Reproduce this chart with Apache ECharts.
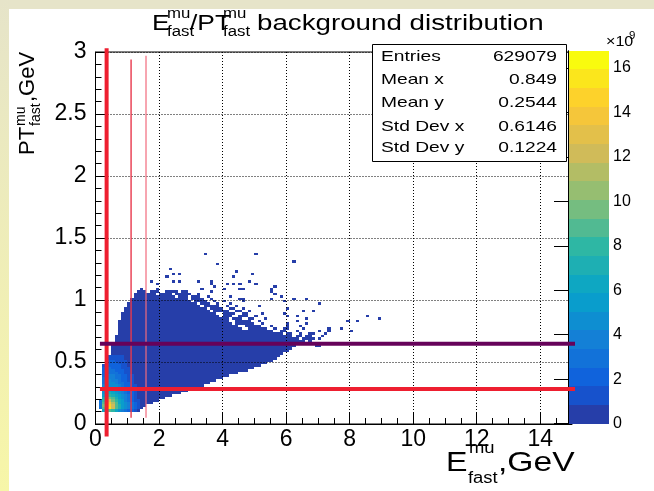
<!DOCTYPE html>
<html><head><meta charset="utf-8">
<script src="https://cdn.jsdelivr.net/npm/echarts@6/dist/echarts.min.js"></script>
<style>html,body{margin:0;padding:0;background:#fff}#c{width:654px;height:491px}</style>
</head><body><div id="c"></div><script>
// ---------------- data ----------------
const BIN_X = 0.1, BIN_Y = 0.02;          // histogram bin sizes (GeV)
const Z_MAX = 16.77;                       // palette maximum, x10^9
const LOW = 0.3;                           // content of the sparse (lowest colour) bins, x10^9
const xTicks = [0, 2, 4, 6, 8, 10, 12, 14];
const yTicks = [0, 0.5, 1, 1.5, 2, 2.5, 3];
const zTicks = [0, 2, 4, 6, 8, 10, 12, 14, 16];

// occupied bins, row by row (row = lower y edge), as [xFrom, xTo] runs
const rowY = [0.10,0.12,0.14,0.16,0.18,0.20,0.22,0.24,0.26,0.28,0.30,0.32,0.34,0.36,0.38,0.40,0.42,0.44,0.46,0.48,
              0.50,0.52,0.54,0.56,0.58,0.60,0.62,0.64,0.66,0.68,0.70,0.72,0.74,0.76,0.78,0.80,0.82,0.84,0.86,0.88,
              0.90,0.92,0.94,0.96,0.98,1.00,1.02,1.04,1.06];
const rowSegments = [
  [[0.2,1.4]], [[0.1,1.5]], [[0.1,1.6]], [[0.1,1.8]], [[0.1,2.0]], [[0.2,2.2]], [[0.2,2.4]], [[0.2,2.7]],
  [[0.2,2.9]], [[0.2,3.2]], [[0.2,3.4]], [[0.2,3.6]], [[0.2,3.8]], [[0.2,4.0]], [[0.2,4.2]], [[0.2,4.5]],
  [[0.2,4.8]], [[0.2,5.0]], [[0.2,5.2]], [[0.3,5.4]],
  [[0.4,5.6]], [[0.4,5.7]], [[0.4,5.8]], [[0.5,5.9]], [[0.5,6.1]], [[0.5,6.2]], [[0.5,6.3],[6.9,7.0]],
  [[0.6,6.5]], [[0.6,6.6],[6.7,6.8]], [[0.6,6.4],[6.5,6.9],[7.0,7.1]],
  [[0.6,6.2],[6.3,6.5],[6.6,6.8],[7.1,7.2]],
  [[0.7,5.9],[6.0,6.2],[6.4,6.5],[6.7,6.9],[7.2,7.3]],
  [[0.7,5.6],[5.8,6.0],[6.3,6.4],[7.0,7.1],[7.3,7.4],[8.0,8.1]],
  [[0.7,4.6],[4.8,5.4],[5.6,5.7],[5.9,6.1],[6.5,6.6],[7.3,7.4],[7.7,7.8]],
  [[0.7,4.5],[4.7,5.2],[5.5,5.6],[6.0,6.1],[6.4,6.5]],
  [[0.7,4.3],[4.4,5.0],[5.2,5.3],[6.0,6.1],[6.6,6.7]],
  [[0.7,4.2],[4.4,4.9],[5.1,5.2],[6.3,6.4],[7.9,8.0],[8.2,8.3]],
  [[0.8,4.2],[4.3,4.6],[4.8,5.0],[5.3,5.4],[6.6,6.7],[8.9,9.0]],
  [[0.8,3.9],[4.0,4.3],[4.5,4.8],[5.0,5.1],[6.0,6.1],[6.3,6.4],[8.5,8.6]],
  [[0.8,3.8],[4.0,4.4],[4.6,4.8],[5.2,5.3],[5.9,6.0]],
  [[0.9,3.6],[3.7,4.2],[4.4,4.6],[4.8,4.9],[6.5,6.6],[6.8,6.9]],
  [[0.9,3.5],[3.6,4.0],[4.2,4.4],[4.6,4.7],[6.0,6.1]],
  [[1.0,3.3],[3.4,3.9],[4.1,4.2],[4.4,4.5],[5.1,5.2]],
  [[1.0,3.2],[3.3,3.6],[3.8,3.9],[4.2,4.3],[7.0,7.1]],
  [[1.1,3.0],[3.1,3.5],[3.7,3.8],[4.0,4.1],[4.6,4.7],[5.9,6.0]],
  [[1.1,2.9],[3.0,3.4],[3.6,3.7],[4.5,4.7],[5.5,5.6],[6.2,6.3],[6.6,6.7]],
  [[1.2,2.5],[2.6,2.9],[3.0,3.3],[3.5,3.6],[4.2,4.3],[5.8,5.9]],
  [[1.2,1.9],[2.0,2.4],[2.5,3.0],[3.2,3.3],[5.6,5.7]],
  [[1.3,1.6],[1.7,2.0],[2.2,2.6],[2.7,2.9],[3.6,3.7],[5.5,5.6]]
];
// isolated bins above / right of the bulk: [x lower edge, y lower edge]
const isolatedCells = [
  [1.4,1.08],[1.9,1.08],[1.7,1.14],[1.9,1.12],[2.2,1.18],[2.3,1.24],[2.4,1.20],[2.6,1.20],[2.4,1.14],[2.6,1.14],
  [3.2,1.14],[3.3,1.08],[3.6,1.12],[3.7,1.10],[3.4,1.36],[3.8,1.28],[4.1,1.12],[4.3,1.18],[4.4,1.22],[4.3,1.12],
  [4.5,1.12],[4.8,1.14],[4.9,1.20],[5.0,1.12],[5.0,1.36],[6.2,1.30],[4.5,1.08],[4.6,1.08],[5.6,1.10],[5.5,1.08],
  [7.0,0.62],[3.6,1.14],[4.0,1.08]
];
// bin contents (x10^9) of the dense core: rows y = hotY, columns x = hotX
const hotX = [0.1,0.2,0.3,0.4,0.5,0.6,0.7,0.8,0.9,1.0,1.1,1.2,1.3];
const hotY = [0.10,0.12,0.14,0.16,0.18,0.20,0.22,0.24,0.26,0.28,0.30,0.32,0.34,0.36,0.38,0.40,0.42,0.44,0.46,0.48,
              0.50,0.52,0.54];
const hotValues = [
  [0,   6.5, 9.5, 9.0, 7.8, 6.2, 5.0, 4.0, 3.2, 2.5, 1.9, 1.3, 0.8],
  [3.0, 9.0,16.8,15.5,11.8, 8.6, 6.8, 5.4, 4.3, 3.4, 2.6, 1.8, 1.1],
  [3.2, 9.5,16.5,15.0,11.8, 8.8, 7.0, 5.6, 4.4, 3.5, 2.7, 1.8, 1.1],
  [3.0, 9.0,15.0,14.0,11.0, 8.4, 6.7, 5.4, 4.3, 3.4, 2.6, 1.7, 1.0],
  [2.6, 8.0,12.5,12.0, 9.8, 7.8, 6.3, 5.1, 4.1, 3.2, 2.4, 1.6, 0.9],
  [0,   6.8, 9.8, 9.8, 8.5, 7.0, 5.8, 4.7, 3.8, 3.0, 2.2, 1.5, 0.8],
  [0,   5.8, 8.0, 8.1, 7.3, 6.2, 5.2, 4.3, 3.5, 2.7, 2.0, 1.4, 0.8],
  [0,   5.0, 6.8, 7.0, 6.4, 5.6, 4.7, 3.9, 3.2, 2.5, 1.8, 1.2, 0.7],
  [0,   4.4, 5.9, 6.1, 5.7, 5.0, 4.3, 3.6, 2.9, 2.3, 1.7, 1.1, 0.6],
  [0,   4.0, 5.3, 5.5, 5.1, 4.6, 3.9, 3.3, 2.6, 2.0, 1.5, 1.0, 0.6],
  [0,   3.6, 4.8, 5.0, 4.7, 4.2, 3.6, 3.0, 2.4, 1.8, 1.3, 0.9, 0.5],
  [0,   3.3, 4.4, 4.6, 4.3, 3.9, 3.3, 2.7, 2.2, 1.7, 1.2, 0.8, 0.5],
  [0,   3.0, 4.0, 4.2, 4.0, 3.6, 3.0, 2.5, 2.0, 1.5, 1.1, 0.8, 0.4],
  [0,   2.8, 3.7, 3.9, 3.7, 3.3, 2.8, 2.3, 1.8, 1.4, 1.0, 0.7, 0.4],
  [0,   2.5, 3.4, 3.6, 3.4, 3.0, 2.6, 2.1, 1.7, 1.3, 0.9, 0.6, 0.4],
  [0,   2.3, 3.1, 3.3, 3.1, 2.8, 2.4, 1.9, 1.5, 1.2, 0.8, 0.6, 0.3],
  [0,   2.0, 2.8, 3.0, 2.8, 2.5, 2.1, 1.7, 1.4, 1.0, 0.8, 0.5, 0.3],
  [0,   1.8, 2.5, 2.7, 2.5, 2.3, 1.9, 1.6, 1.2, 0.9, 0.7, 0.5, 0.3],
  [0,   1.5, 2.2, 2.4, 2.3, 2.0, 1.7, 1.4, 1.1, 0.8, 0.6, 0.4, 0.3],
  [0,   0,   1.9, 2.1, 2.0, 1.8, 1.5, 1.2, 1.0, 0.8, 0.6, 0.4, 0.3],
  [0,   0,   0,   1.7, 1.7, 1.5, 1.3, 1.1, 0.9, 0.7, 0.5, 0.4, 0.3],
  [0,   0,   0,   1.4, 1.5, 1.3, 1.2, 1.0, 0.8, 0.6, 0.5, 0.3, 0.3],
  [0,   0,   0,   1.2, 1.3, 1.2, 1.0, 0.9, 0.7, 0.6, 0.4, 0.3, 0.3]
];
// cut lines drawn over the histogram
const cutX = [0.35, 1.12, 1.59];
const cutXFrom = [-0.1, 0.05, 0.05];
const cutXTo = [3.03, 2.94, 2.97];
const cutY = [0.282, 0.648];
const cutYFrom = [0.14, 0.14];
const cutYTo = [15.4, 15.4];
// statistics box
const statsLabels = ['Entries', 'Mean x', 'Mean y', 'Std Dev x', 'Std Dev y'];
const statsValues = ['629079', '0.849', '0.2544', '0.6146', '0.1224'];

// ---------------- styles ----------------
const FONT = '"Liberation Sans", Arial, Helvetica, sans-serif';
const cutXColors = ['#ee1f30', '#e8384c', '#f26a7c'];
const cutXWidths = [4, 1.4, 1.2];
const cutYColors = ['#ee1f30', '#66025a'];
const cutYWidths = [4, 4];
const birdStops = [0, 0.125, 0.25, 0.375, 0.5, 0.625, 0.75, 0.875, 1];
const birdR = [0.2082, 0.0592, 0.0780, 0.0232, 0.1802, 0.5301, 0.8186, 0.9956, 0.9764];
const birdG = [0.1664, 0.3599, 0.5041, 0.6419, 0.7178, 0.7492, 0.7328, 0.7862, 0.9832];
const birdB = [0.5293, 0.8684, 0.8385, 0.7914, 0.6425, 0.4662, 0.3499, 0.1968, 0.0539];
function bird(f) {
  f = Math.max(0, Math.min(1, f));
  const i = Math.min(birdStops.length - 2, Math.floor(f * 8));
  const t = (f - birdStops[i]) / (birdStops[i + 1] - birdStops[i]);
  const c = k => Math.round(255 * (k[i] + t * (k[i + 1] - k[i])));
  return 'rgb(' + c(birdR) + ',' + c(birdG) + ',' + c(birdB) + ')';
}
const NBANDS = 20;
const bandColors = [];
for (let i = 0; i < NBANDS; i++) bandColors.push(bird((i + 0.99) / NBANDS));
function colorOf(v) { return bandColors[Math.min(NBANDS - 1, Math.floor(v / (Z_MAX / NBANDS)))]; }

// ---------------- build cells ----------------
const hotMap = {};
hotY.forEach((y, r) => hotX.forEach((x, c) => {
  if (hotValues[r][c] > 0) hotMap[Math.round(y * 50) + '_' + Math.round(x * 10)] = hotValues[r][c];
}));
const cells = [];
rowY.forEach((y, r) => rowSegments[r].forEach(seg => {
  for (let k = Math.round(seg[0] * 10); k < Math.round(seg[1] * 10); k++) {
    const key = Math.round(y * 50) + '_' + k;
    cells.push([k / 10, y, hotMap[key] !== undefined ? hotMap[key] : LOW]);
  }
}));
isolatedCells.forEach(c => cells.push([c[0], c[1], LOW]));

function renderCell(params, api) {
  const x = api.value(0), y = api.value(1), v = api.value(2);
  const p0 = api.coord([x, y]), p1 = api.coord([x + BIN_X, y + BIN_Y]);
  const x0 = Math.round(p0[0]), x1 = Math.round(p1[0]);
  const yb = Math.round(p0[1]), yt = Math.round(p1[1]);
  return { type: 'rect', shape: { x: x0, y: yt, width: x1 - x0, height: yb - yt },
           style: { fill: colorOf(v) } };
}
function renderBand(params, api) {
  const i = api.value(0);
  const p0 = api.coord([0, i * Z_MAX / NBANDS]), p1 = api.coord([1, (i + 1) * Z_MAX / NBANDS]);
  const yb = Math.round(p0[1]), yt = Math.round(p1[1]);
  return { type: 'rect', shape: { x: p0[0], y: yt, width: p1[0] - p0[0], height: yb - yt },
           style: { fill: bandColors[i] } };
}

// ---------------- text helpers ----------------
function T(x, y, s, size, o) {
  o = o || {};
  return { type: 'text', x: x, y: y, scaleX: o.sx || 1, z: 50,
           style: { text: s, font: size + 'px ' + FONT, fill: '#000',
                    textAlign: o.align || 'left', textVerticalAlign: 'middle' } };
}
const graphics = [
  { type: 'rect', shape: { x: 0, y: 0, width: 654, height: 9 }, style: { fill: '#e6e4c9' }, z: 0 },
  { type: 'rect', shape: { x: 0, y: 0, width: 9, height: 491 }, z: 0,
    style: { fill: new echarts.graphic.LinearGradient(0, 0, 0, 1, [
      { offset: 0, color: '#e6e4c9' }, { offset: 1, color: '#f7f6a8' }]) } },
  // title
  T(152, 24, 'E', 22, { sx: 1.2 }),
  T(167, 14, 'mu', 14, { sx: 1.2 }),
  T(167, 32, 'fast', 14, { sx: 1.2 }),
  T(190, 24, '/PT', 22, { sx: 1.2 }),
  T(223, 14, 'mu', 14, { sx: 1.2 }),
  T(223, 32, 'fast', 14, { sx: 1.2 }),
  T(257, 24, 'background distribution', 22, { sx: 1.26 }),
  // y axis title (rotated)
  { type: 'group', x: 28, y: 155, rotation: Math.PI / 2, children: [
      T(0, 0, 'PT', 22), T(29, -7, 'mu', 14), T(29, 8, 'fast', 14), T(53, 0, ',GeV', 22)] },
  // x axis title
  T(446, 463, 'E', 28, { sx: 1.15 }),
  T(469, 449, 'mu', 16, { sx: 1.15 }),
  T(468, 479, 'fast', 16, { sx: 1.15 }),
  T(498, 463, ',GeV', 28, { sx: 1.2 }),
  // palette multiplier
  T(606, 42, '\u00d710', 14, { sx: 1.15 }),
  T(629, 36, '9', 10, { sx: 1.15 }),
  // stats box
  { type: 'rect', shape: { x: 372.5, y: 44.5, width: 194, height: 117 }, z: 40,
    style: { fill: '#fff', stroke: '#000', lineWidth: 1 } }
];
const statsRowY = [56.7, 80, 102.7, 126.7, 148.3];
statsLabels.forEach((s, i) => graphics.push(T(381, statsRowY[i], s, 15, { sx: 1.28 })));
statsValues.forEach((s, i) => graphics.push(T(557, statsRowY[i], s, 15, { sx: 1.28, align: 'right' })));

// ---------------- chart ----------------
const axisBlack = { color: '#000', width: 1 };
const series = [
  { type: 'custom', xAxisIndex: 0, yAxisIndex: 0, data: cells, renderItem: renderCell,
    encode: { x: 0, y: 1 }, progressive: 0, animation: false, silent: true, z: 2 },
  { type: 'custom', xAxisIndex: 1, yAxisIndex: 1, data: bandColors.map((c, i) => [i]), renderItem: renderBand,
    encode: { y: 0 }, progressive: 0, animation: false, silent: true, z: 7 }
];
cutX.forEach((x, i) => series.push({ type: 'line', xAxisIndex: 0, yAxisIndex: 0,
  data: [[x, cutXFrom[i]], [x, cutXTo[i]]], clip: false, symbol: 'none', silent: true, animation: false, z: 10,
  lineStyle: { color: cutXColors[i], width: cutXWidths[i] } }));
cutY.forEach((y, i) => series.push({ type: 'line', xAxisIndex: 0, yAxisIndex: 0,
  data: [[cutYFrom[i], y], [cutYTo[i], y]], clip: false, symbol: 'none', silent: true, animation: false, z: 11,
  lineStyle: { color: cutYColors[i], width: cutYWidths[i] } }));

const chart = echarts.init(document.getElementById('c'), null, { renderer: 'canvas' });
chart.setOption({
  backgroundColor: '#fff',
  animation: false,
  grid: [
    { left: 95.5, top: 52, width: 476.5, height: 372, show: true, borderColor: '#000', borderWidth: 1, backgroundColor: 'transparent' },
    { left: 568, top: 50.7, width: 41, height: 373 }
  ],
  xAxis: [
    { type: 'value', gridIndex: 0, min: 0, max: 15, interval: 2, z: 5,
      axisLine: { show: true, onZero: false, lineStyle: axisBlack },
      axisTick: { show: true, inside: true, length: 12, lineStyle: axisBlack },
      minorTick: { show: true, splitNumber: 4, length: 6, lineStyle: axisBlack },
      splitLine: { show: true, lineStyle: { color: '#000', width: 1, type: [1, 2] } },
      axisLabel: { show: true, fontSize: 23, fontFamily: FONT, color: '#000', margin: 4, customValues: xTicks } },
    { type: 'value', gridIndex: 1, min: 0, max: 1, show: false }
  ],
  yAxis: [
    { type: 'value', gridIndex: 0, min: 0, max: 3, interval: 0.5, z: 5,
      axisLine: { show: true, onZero: false, lineStyle: axisBlack },
      axisTick: { show: true, inside: true, length: 12, lineStyle: axisBlack },
      minorTick: { show: true, splitNumber: 5, length: 6, lineStyle: axisBlack },
      splitLine: { show: true, lineStyle: { color: '#000', width: 1, type: [1, 2] } },
      axisLabel: { show: true, fontSize: 23, fontFamily: FONT, color: '#000', margin: 9, customValues: yTicks } },
    { type: 'value', gridIndex: 1, min: 0, max: Z_MAX, interval: 2, position: 'right', z: 8,
      axisLine: { show: true, lineStyle: axisBlack },
      axisTick: { show: true, inside: true, length: 14, lineStyle: axisBlack, customValues: zTicks },
      splitLine: { show: false },
      axisLabel: { show: true, fontSize: 16, fontFamily: FONT, color: '#000', margin: 4, customValues: zTicks } }
  ],
  series: series,
  graphic: graphics
});
</script></body></html>
